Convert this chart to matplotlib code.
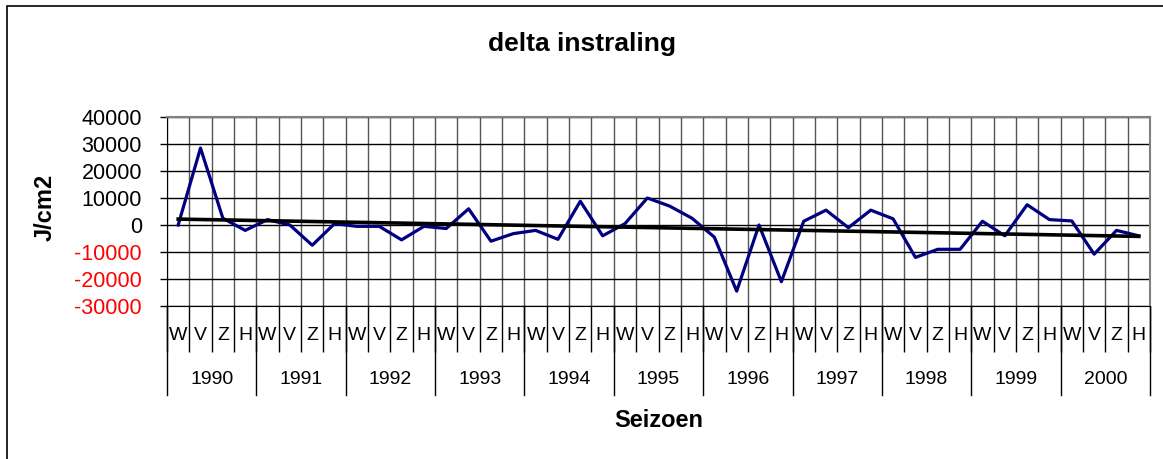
import matplotlib
matplotlib.use("Agg")
import matplotlib.pyplot as plt
import matplotlib.transforms as mtransforms
import numpy as np

plt.rcParams['font.family'] = ['Liberation Sans', 'DejaVu Sans']

years = ['1990', '1991', '1992', '1993', '1994', '1995', '1996', '1997', '1998', '1999', '2000']
seasons = ['W', 'V', 'Z', 'H']
delta = [0, 28500, 2500, -2000, 2000, 0, -7500, 500,
         -500, -500, -5500, -500, -1300, 6000, -6000, -3200,
         -2000, -5300, 8800, -4000, 500, 10000, 7000, 2500,
         -4500, -24500, 0, -21000, 1400, 5500, -1000, 5500,
         2300, -12000, -9000, -9000, 1400, -4000, 7500, 2000,
         1500, -10800, -2000, -4000]
yticks = [-30000, -20000, -10000, 0, 10000, 20000, 30000, 40000]

n = len(delta)
x = np.arange(n)

fig = plt.figure(figsize=(11.63, 4.59), dpi=100)
# outer border
fig.patches.append(plt.Rectangle((7 / 1163, -0.05), 1.2, 1 - 6 / 459 + 0.05,
                                 transform=fig.transFigure, fill=False,
                                 edgecolor='black', linewidth=1.2))

ax = fig.add_axes([167 / 1163, 1 - 306 / 459, 983 / 1163, 189 / 459])
ax.plot(x, delta, color='#000080', linewidth=2.3, zorder=3, clip_on=False)
coef = np.polyfit(x, delta, 1)
ax.plot(x, np.polyval(coef, x), color='black', linewidth=2.6, zorder=4)

ax.set_xlim(-0.5, n - 0.5)
ax.set_ylim(-30000, 40000)
ax.set_yticks(yticks)
ax.set_yticklabels([str(v) for v in yticks], fontsize=15.5)
for lab, v in zip(ax.get_yticklabels(), yticks):
    lab.set_color('red' if v < 0 else 'black')
ax.tick_params(axis='y', which='major', length=5, width=1, direction='out', pad=13)

ax.set_xticks(x)
ax.set_xticklabels([seasons[i % 4] for i in x], fontsize=14)
ax.set_xticks(np.arange(n + 1) - 0.5, minor=True)
ax.tick_params(axis='x', which='major', length=0, pad=15)
ax.tick_params(axis='x', which='minor', length=33, width=1, color='black')

ax.grid(which='minor', axis='x', color='#555555', linewidth=1)
ax.grid(which='major', axis='y', color='black', linewidth=1)
ax.set_axisbelow(True)

for s in ['top', 'right']:
    ax.spines[s].set_color('#808080')
    ax.spines[s].set_linewidth(1.5)
ax.spines['left'].set_color('black')
ax.spines['bottom'].set_color('black')

trans = mtransforms.blended_transform_factory(ax.transData, ax.transAxes)
for k in range(len(years) + 1):
    xb = 4 * k - 0.5
    ax.plot([xb, xb], [0, -89 / 189], color='black', linewidth=1,
            transform=trans, clip_on=False)
for k, yr in enumerate(years):
    ax.text(4 * k + 1.5, -74 / 189, yr, transform=trans, ha='center',
            va='center', fontsize=14)

ax.text(0.5, -115 / 189, 'Seizoen', transform=ax.transAxes, ha='center',
        va='center', fontsize=17, fontweight='bold')
fig.text(45 / 1163, 1 - 207 / 459, 'J/cm2', rotation=90, ha='center',
         va='center', fontsize=17, fontweight='bold')
fig.text(582 / 1163, 1 - 44 / 459, 'delta instraling', ha='center',
         va='center', fontsize=19, fontweight='bold')

fig.savefig('out.png', dpi=100)
